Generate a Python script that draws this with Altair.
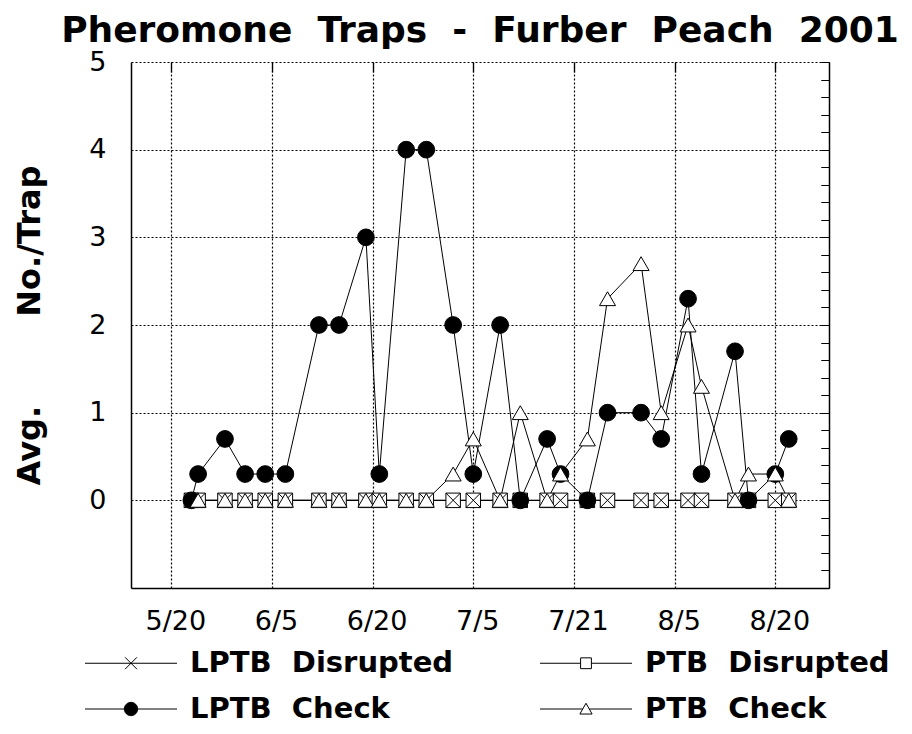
import json
import altair as alt
import pandas as pd

# ---------------- data ----------------
title_text = "Pheromone  Traps  -  Furber  Peach  2001"
y_title = "Avg.        No./Trap"

# day of year of each trap check
days = [143, 144, 148, 151, 154, 157, 162, 165, 169, 171, 175, 178, 182, 185,
        189, 192, 196, 198, 202, 205, 210, 213, 217, 219, 224, 226, 230, 232]

lptb_disrupted = [0, 0, 0, 0, 0, 0, 0, 0, 0, 0, 0, 0, 0, 0,
                  0, 0, 0, 0, 0, 0, 0, 0, 0, 0, 0, 0, 0, 0]
ptb_disrupted = [0, 0, 0, 0, 0, 0, 0, 0, 0, 0, 0, 0, 0, 0,
                 0, 0, 0, 0, 0, 0, 0, 0, 0, 0, 0, 0, 0, 0]
lptb_check = [0, 0.3, 0.7, 0.3, 0.3, 0.3, 2, 2, 3, 0.3, 4, 4, 2, 0.3,
              2, 0, 0.7, 0.3, 0, 1, 1, 0.7, 2.3, 0.3, 1.7, 0, 0.3, 0.7]
ptb_check = [None, 0, 0, 0, 0, 0, 0, 0, 0, 0, 0, 0, 0.3, 0.7,
             0, 1, 0, 0.3, 0.7, 2.3, 2.7, 1, 2, 1.3, 0, 0.3, 0.3, 0]

series_names = ["LPTB Disrupted", "PTB Disrupted", "LPTB Check", "PTB Check"]

x_ticks = [140, 155, 170, 185, 200, 215, 230]
x_labels = ["5/20", "6/5", "6/20", "7/5", "7/21", "8/5", "8/20"]
y_labels = [0, 1, 2, 3, 4, 5]

# ---------------- table ----------------
rows = []
for name, vals in zip(series_names, [lptb_disrupted, ptb_disrupted, lptb_check, ptb_check]):
    for d, v in zip(days, vals):
        if v is not None:
            rows.append({"day": d, "value": v, "series": name})
df = pd.DataFrame(rows)

FONT = "DejaVu Sans"
xscale = alt.Scale(domain=[134, 238], nice=False, zero=False)
yscale = alt.Scale(domain=[-1, 5], nice=False, zero=False)
minor_y = [round(-1 + 0.2 * i, 1) for i in range(31)]
label_expr = f"{json.dumps(x_labels)}[indexof({json.dumps(x_ticks)}, datum.value)]"


def X(axis):
    return alt.X("day:Q", scale=xscale, axis=axis, title=None)


def Y(axis):
    return alt.Y("value:Q", scale=yscale, axis=axis, title=None)


main_x_axis = alt.Axis(values=x_ticks, labelExpr=label_expr, grid=True, gridDash=[2, 2],
                       gridColor="black", gridWidth=1.2, gridOpacity=1, ticks=False,
                       domain=True, domainColor="black", domainWidth=1.5,
                       labelFont=FONT, labelFontSize=27, labelColor="black",
                       labelPadding=20, labelOffset=4, labelFlush=False, labelOverlap=False,
                       title=None)
main_y_axis = alt.Axis(values=y_labels, grid=True, gridDash=[2, 2], gridColor="black",
                       gridWidth=1.2, gridOpacity=1, ticks=False, domain=True,
                       domainColor="black", domainWidth=1.5, labelFont=FONT,
                       labelFontSize=27, labelColor="black", labelPadding=25,
                       labelFlush=False, labelOverlap=False,
                       title=y_title.replace("  ", "\u00a0 "), titleFont=FONT,
                       titleFontSize=32, titleFontWeight="bold", titleColor="black",
                       titleX=-102, titleY=263, titleAngle=270, titleAlign="center",
                       titleBaseline="middle")

lines = alt.Chart(df).mark_line(color="black", strokeWidth=1).encode(
    x=X(main_x_axis), y=Y(main_y_axis), detail="series:N", order="day:Q")

# legend + inward tick axes carrier
sym = {
    "LPTB Disrupted": "M-2.556,0H2.556M-0.33,-0.33L0.33,0.33M-0.33,0.33L0.33,-0.33",
    "PTB Disrupted": "M-2.556,0H-0.3M0.3,0H2.556M-0.3,-0.3H0.3V0.3H-0.3Z",
    "LPTB Check": "M-2.556,0H2.556M0.37,0A0.37,0.37,0,1,1,-0.37,0A0.37,0.37,0,1,1,0.37,0Z",
    "PTB Check": "M-2.556,0H-0.19M0.19,0H2.556M0,-0.32L0.34,0.28H-0.34Z",
}
fills = {"LPTB Disrupted": "transparent", "PTB Disrupted": "white",
         "LPTB Check": "black", "PTB Check": "white"}

legend = alt.Legend(orient="none", legendX=-18.5, legendY=582.5, columns=2, title=None,
                    direction="horizontal",
                    symbolSize=1296, symbolStrokeColor="black", symbolStrokeWidth=1,
                    symbolOpacity=1, labelFont=FONT, labelFontSize=29,
                    labelFontWeight="bold", labelColor="black", labelOffset=40.5,
                    columnPadding=84, rowPadding=12, padding=0, labelLimit=0,
                    labelExpr="replace(datum.label, ' ', '\u00a0 ')")

tick_x_axis = alt.Axis(values=x_ticks, labels=False, grid=False, domain=False, ticks=True,
                       tickSize=10, tickColor="black", tickWidth=1.3, offset=-10, title=None)
left_minor = alt.Axis(values=minor_y, labels=False, grid=False, domain=False, ticks=True,
                      tickSize=8, tickColor="black", tickWidth=1, offset=-8, title=None)
right_minor = alt.Axis(orient="right", values=minor_y, labels=False, grid=False, domain=False,
                       ticks=True, tickSize=8, tickColor="black", tickWidth=1, offset=-8,
                       title=None)
right_domain = alt.Axis(orient="right", labels=False, grid=False, domain=True, ticks=False,
                        domainColor="black", domainWidth=1.5, title=None)

legend_layer = alt.Chart(df).mark_point(filled=True, strokeWidth=1, opacity=0).encode(
    x=X(tick_x_axis), y=Y(left_minor),
    shape=alt.Shape("series:N", scale=alt.Scale(domain=series_names,
                                                range=[sym[s] for s in series_names]),
                    legend=legend),
    fill=alt.Fill("series:N", scale=alt.Scale(domain=series_names,
                                              range=[fills[s] for s in series_names]),
                  legend=legend),
    stroke=alt.Stroke("series:N", scale=alt.Scale(domain=series_names,
                                                  range=["black"] * 4),
                      legend=legend),
)

squares = alt.Chart(df).transform_filter(alt.datum.series == "PTB Disrupted").mark_point(
    shape="square", size=210, filled=True, fill="white", stroke="black", strokeWidth=1,
    opacity=1).encode(x=X(None), y=Y(right_domain))

crosses = alt.Chart(df).transform_filter(alt.datum.series == "LPTB Disrupted").mark_point(
    shape="M-1,-1L1,1M-1,1L1,-1", size=210, filled=False, stroke="black", strokeWidth=1,
    opacity=1).encode(x=X(None), y=Y(right_minor))

circles = alt.Chart(df).transform_filter(alt.datum.series == "LPTB Check").mark_point(
    shape="circle", size=280, filled=True, fill="black", stroke="black", strokeWidth=1,
    opacity=1).encode(x=X(None), y=Y(None))

triangles = alt.Chart(df).transform_filter(alt.datum.series == "PTB Check").mark_point(
    shape="triangle-up", size=256, filled=True, fill="white", stroke="black", strokeWidth=1,
    opacity=1).encode(x=X(None), y=Y(None))

chart = alt.layer(lines, legend_layer, squares, crosses, circles, triangles).resolve_axis(
    x="independent", y="independent"
).properties(
    width=698, height=526,
    title=alt.TitleParams(text=title_text.replace("  ", "\u00a0 "), font=FONT, fontSize=36,
                          fontWeight="bold", color="black", anchor="middle", offset=10,
                          dy=12),
    autosize=alt.AutoSizeParams(type="none"),
    padding={"left": 123, "top": 54, "right": 75, "bottom": 138},
).configure(font=FONT, view=alt.ViewConfig(stroke=None))

chart.save("out.html", embed_options={"renderer": "svg", "actions": False})
